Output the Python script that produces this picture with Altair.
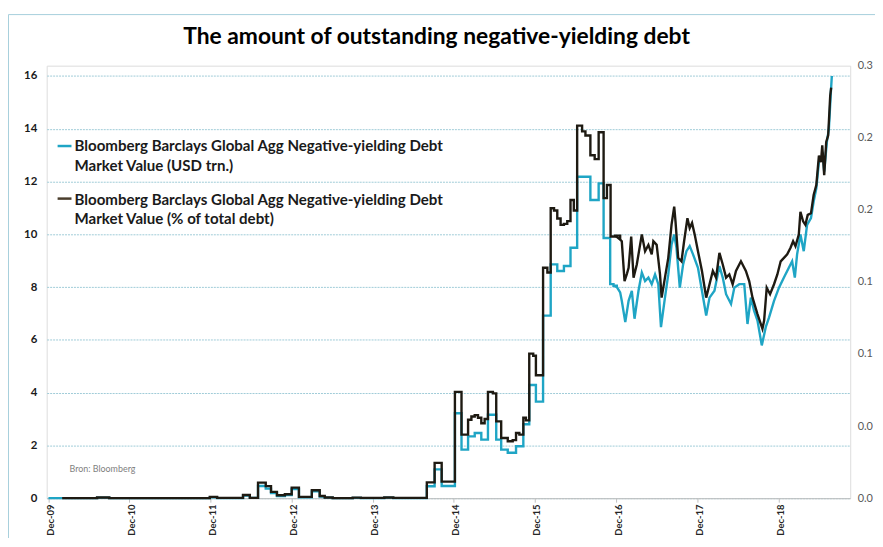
import altair as alt
import pandas as pd

# ---------------- data ----------------
# decimal years (Dec-09 = 2009.917)
blue_years = [2009.917, 2010.517, 2010.667, 2011.907, 2011.997, 2012.317, 2012.401, 2012.502,
              2012.597, 2012.662, 2012.735, 2012.833, 2012.917, 2013.004, 2013.163, 2013.26,
              2013.322, 2013.42, 2013.667, 2013.767, 2014.057, 2014.167, 2014.581, 2014.677,
              2014.764, 2014.927, 2015.009, 2015.09, 2015.172, 2015.253, 2015.335, 2015.437,
              2015.498, 2015.579, 2015.681, 2015.771, 2015.844, 2015.926, 2016.015, 2016.109,
              2016.19, 2016.272, 2016.353, 2016.435, 2016.598, 2016.70, 2016.761, 2016.842,
              2016.883, 2016.924, 2016.965, 2016.985, 2017.026, 2017.067, 2017.107, 2017.14,
              2017.189, 2017.23, 2017.27, 2017.311, 2017.352, 2017.393, 2017.433, 2017.466,
              2017.515, 2017.556, 2017.596, 2017.629, 2017.657, 2017.698, 2017.739, 2017.78,
              2017.82, 2017.861, 2017.922, 2017.971, 2018.024, 2018.065, 2018.126, 2018.187,
              2018.228, 2018.269, 2018.33, 2018.371, 2018.432, 2018.493, 2018.533, 2018.574,
              2018.615, 2018.656, 2018.709, 2018.758, 2018.799, 2018.86, 2018.921, 2018.982,
              2019.043, 2019.084, 2019.117, 2019.145, 2019.186, 2019.227, 2019.268, 2019.316,
              2019.349, 2019.382, 2019.414, 2019.463, 2019.479, 2019.512, 2019.537, 2019.561,
              2019.573]
blue_usd_trn = [0, 0.02, 0, 0.03, 0, 0.10, 0.01, 0.46,
                0.36, 0.19, 0.08, 0.12, 0.35, 0.03, 0.26, 0.06,
                0.02, 0, 0.01, 0, 0.02, 0, 0.45, 1.09,
                0.46, 3.22, 1.84, 2.34, 2.47, 2.22, 3.16, 2.22,
                1.84, 1.72, 1.97, 2.80, 4.29, 3.66, 6.92, 8.86,
                8.61, 8.80, 9.49, 12.18, 11.30, 11.93, 9.86, 8.11,
                8.05, 8.0, 7.8, 7.48, 6.67, 7.48, 7.86, 6.8,
                7.86, 8.55, 8.23, 8.36, 8.11, 8.48, 8.11, 6.48,
                7.6, 8.48, 9.61, 9.99, 9.49, 7.98, 8.86, 9.36,
                9.55, 9.24, 8.73, 7.86, 6.92, 7.6, 7.86, 8.8,
                8.36, 7.73, 7.36, 7.98, 8.11, 8.11, 6.6, 7.6,
                7.1, 6.73, 5.79, 6.48, 6.85, 7.48, 7.98, 8.36,
                8.73, 8.98, 8.36, 9.24, 9.99, 9.36, 10.36, 10.61,
                11.24, 11.74, 12.74, 12.99, 12.37, 13.5, 14.0, 15.38,
                16.0]

black_years = [2010.087, 2010.517, 2010.667, 2011.907, 2011.997, 2012.317, 2012.401, 2012.502,
               2012.597, 2012.662, 2012.735, 2012.833, 2012.917, 2013.004, 2013.163, 2013.26,
               2013.322, 2013.42, 2013.667, 2013.767, 2014.057, 2014.167, 2014.581, 2014.677,
               2014.764, 2014.927, 2015.009, 2015.09, 2015.131, 2015.172, 2015.212, 2015.253,
               2015.294, 2015.335, 2015.396, 2015.437, 2015.498, 2015.579, 2015.64, 2015.681,
               2015.722, 2015.771, 2015.803, 2015.844, 2015.893, 2015.926, 2016.015, 2016.068,
               2016.109, 2016.15, 2016.19, 2016.231, 2016.272, 2016.313, 2016.353, 2016.394,
               2016.435, 2016.496, 2016.537, 2016.598, 2016.651, 2016.70, 2016.761, 2016.802,
               2016.847, 2016.904, 2016.965, 2016.985, 2017.017, 2017.046, 2017.067, 2017.099,
               2017.128, 2017.168, 2017.23, 2017.27, 2017.311, 2017.352, 2017.372, 2017.413,
               2017.454, 2017.474, 2017.515, 2017.556, 2017.596, 2017.629, 2017.645, 2017.678,
               2017.719, 2017.751, 2017.792, 2017.82, 2017.849, 2017.882, 2017.922, 2017.971,
               2018.024, 2018.065, 2018.106, 2018.146, 2018.187, 2018.228, 2018.269, 2018.309,
               2018.35, 2018.391, 2018.452, 2018.513, 2018.554, 2018.595, 2018.656, 2018.717,
               2018.738, 2018.77, 2018.811, 2018.86, 2018.901, 2018.942, 2018.982, 2019.023,
               2019.064, 2019.096, 2019.125, 2019.166, 2019.186, 2019.219, 2019.247, 2019.276,
               2019.316, 2019.349, 2019.382, 2019.414, 2019.439, 2019.455, 2019.479, 2019.504,
               2019.528, 2019.553, 2019.565]
black_share = [0, 0.0005, 0, 0.0009, 0.0002, 0.0022, 0.0002, 0.0108,
               0.0084, 0.0044, 0.0020, 0.0027, 0.0073, 0.0009, 0.0055, 0.0015,
               0.0005, 0, 0.0004, 0.0002, 0.0005, 0.0002, 0.0110, 0.0245,
               0.0115, 0.0737, 0.0441, 0.0544, 0.0567, 0.0576, 0.0558, 0.0520,
               0.0549, 0.0737, 0.0727, 0.0533, 0.0417, 0.0395, 0.0403, 0.0452,
               0.0441, 0.0558, 0.0540, 0.1003, 0.0988, 0.0853, 0.1598, 0.1565,
               0.2011, 0.1995, 0.1940, 0.1896, 0.1903, 0.1922, 0.2068, 0.1995,
               0.2584, 0.2544, 0.2516, 0.2379, 0.2352, 0.2538, 0.2081, 0.2172,
               0.1815, 0.1821, 0.1793, 0.1782, 0.1506, 0.1556, 0.1598, 0.1815,
               0.1530, 0.1621, 0.1830, 0.1713, 0.1757, 0.1691, 0.1782, 0.1757,
               0.1552, 0.1391, 0.1530, 0.1667, 0.1896, 0.2022, 0.1920, 0.1667,
               0.1643, 0.1782, 0.1942, 0.1874, 0.1909, 0.1828, 0.1713, 0.1576,
               0.1391, 0.1484, 0.1576, 0.1530, 0.1702, 0.1621, 0.1530, 0.1552,
               0.1484, 0.1576, 0.1643, 0.1576, 0.1506, 0.1391, 0.1277, 0.1175,
               0.1232, 0.1460, 0.1415, 0.1484, 0.1552, 0.1643, 0.1667, 0.1691,
               0.1737, 0.1782, 0.1748, 0.1828, 0.1987, 0.1920, 0.1896, 0.1965,
               0.1976, 0.2103, 0.2172, 0.2377, 0.2331, 0.2447, 0.2240, 0.2471,
               0.2516, 0.2791, 0.2847]

# monthly (stepped) readings until late 2016, daily (jagged) afterwards
daily_from = 2016.92

left_ticks = [0, 2, 4, 6, 8, 10, 12, 14, 16]
right_ticks = [0, 0.05, 0.1, 0.15, 0.2, 0.25, 0.3]
tick_years = [2009, 2010, 2011, 2012, 2013, 2014, 2015, 2016, 2017, 2018]

title_text = "The amount of outstanding negative-yielding debt"
legend_usd = "Bloomberg Barclays Global Agg Negative-yielding Debt\nMarket Value (USD trn.)"
legend_pct = "Bloomberg Barclays Global Agg Negative-yielding Debt\nMarket Value (% of total debt)"
source_text = "Bron: Bloomberg"

BLUE = "#1fa5c5"
BLACK = "#1e1a12"
FONT = "Lato"


def to_dt(y):
    yr = int(y)
    return pd.Timestamp(year=yr, month=1, day=1) + pd.Timedelta(days=(y - yr) * 365.25)


def frame_of(years, values):
    df = pd.DataFrame({"date": [to_dt(v) for v in years], "value": values, "yr": years})
    return df


df_blue = frame_of(blue_years, blue_usd_trn)
df_black = frame_of(black_years, black_share)


def split(df):
    # the point where the stepped part ends is shared with the jagged part
    first_daily = df[df["yr"] >= daily_from].index.min()
    monthly = df.loc[:first_daily]
    daily = df.loc[first_daily - 1:]
    return monthly, daily


blue_m, blue_d = split(df_blue)
black_m, black_d = split(df_black)
one = pd.DataFrame({"k": [0]})

W, H = 810, 436

x_enc = alt.X(
    "date:T",
    scale=alt.Scale(domain=[alt.DateTime(year=2009, month=11, date=24),
                            alt.DateTime(year=2019, month=10, date=20)]),
    axis=alt.Axis(
        values=[alt.DateTime(year=y, month=12, date=1) for y in tick_years],
        format="%b-%y", labelAngle=-90, title=None, grid=False,
        domainColor="#bfbfbf", tickColor="#bfbfbf", tickSize=4, labelPadding=2,
        labelOffset=2,
        labelFont=FONT, labelFontSize=9.5, labelFontWeight="bold", labelColor="#262626",
    ),
)

y_left = alt.Y(
    "value:Q",
    scale=alt.Scale(domain=[0, 16.39], nice=False, zero=True),
    axis=alt.Axis(
        values=left_ticks, format="d", title=None, orient="left",
        grid=True, gridColor="#9fcbd8", gridDash=[2, 1], gridWidth=1,
        domain=False, ticks=False, labelPadding=10,
        labelFont=FONT, labelFontSize=11.5, labelFontWeight="bold", labelColor="#1a1a1a",
    ),
)
y_right = alt.Y(
    "value:Q",
    scale=alt.Scale(domain=[0, 0.30], nice=False),
    axis=alt.Axis(
        values=right_ticks, title=None, orient="right",
        labelExpr="substring(format(datum.value, '.2f'), 0, 3)",
        grid=False, domain=False, ticks=False, labelPadding=7,
        labelFont=FONT, labelFontSize=11, labelColor="#595959",
    ),
)

blue_layer = alt.layer(
    alt.Chart(blue_m).mark_line(color=BLUE, strokeWidth=2.4, interpolate="step-after")
    .encode(x=x_enc, y=y_left),
    alt.Chart(blue_d).mark_line(color=BLUE, strokeWidth=2.4, interpolate="linear")
    .encode(x=x_enc, y=y_left),
)
black_layer = alt.layer(
    alt.Chart(black_m).mark_line(color=BLACK, strokeWidth=2.4, interpolate="step-after")
    .encode(x=x_enc, y=y_right),
    alt.Chart(black_d).mark_line(color=BLACK, strokeWidth=2.4, interpolate="linear")
    .encode(x=x_enc, y=y_right),
)

leg_rule_blue = alt.Chart(one).mark_rule(color=BLUE, strokeWidth=2.5).encode(
    x=alt.value(11), x2=alt.value(25), y=alt.value(81))
leg_text_blue = alt.Chart(one).mark_text(
    text=legend_usd, lineBreak="\n", lineHeight=19.5, align="left", baseline="alphabetic",
    font=FONT, fontSize=15.2, fontWeight="bold", color="#1a1a1a",
).encode(x=alt.value(28), y=alt.value(86.5))

leg_rule_black = alt.Chart(one).mark_rule(color="#4a3d2c", strokeWidth=2.5).encode(
    x=alt.value(11), x2=alt.value(25), y=alt.value(134))
leg_text_black = alt.Chart(one).mark_text(
    text=legend_pct, lineBreak="\n", lineHeight=19.5, align="left", baseline="alphabetic",
    font=FONT, fontSize=15.2, fontWeight="bold", color="#1a1a1a",
).encode(x=alt.value(28), y=alt.value(140))

source_note = alt.Chart(one).mark_text(
    text=source_text, align="left", baseline="middle",
    font=FONT, fontSize=9, color="#7f7f7f",
).encode(x=alt.value(23), y=alt.value(407))

title_mark = alt.Chart(one).mark_text(
    text=title_text, align="center", baseline="alphabetic",
    font=FONT, fontSize=23, fontWeight="bold", color="#000000",
).encode(x=alt.value(393), y=alt.value(-22))

frame = alt.Chart(one).mark_rect(
    filled=False, stroke="#a6cfdc", strokeWidth=1
).encode(x=alt.value(-38.5), x2=alt.value(860), y=alt.value(-51.5), y2=alt.value(490))

chart = alt.layer(
    frame, blue_layer, black_layer, leg_rule_blue, leg_text_blue, leg_rule_black,
    leg_text_black, source_note, title_mark,
).resolve_scale(
    y="independent"
).properties(
    width=W, height=H,
    padding={"left": 39, "top": 56, "right": 25, "bottom": 38},
    autosize=alt.AutoSizeParams(type="none"),
).configure_view(
    strokeWidth=0
).configure(
    background="#ffffff"
)

chart.save("out.html", embed_options={"renderer": "svg", "actions": False})
